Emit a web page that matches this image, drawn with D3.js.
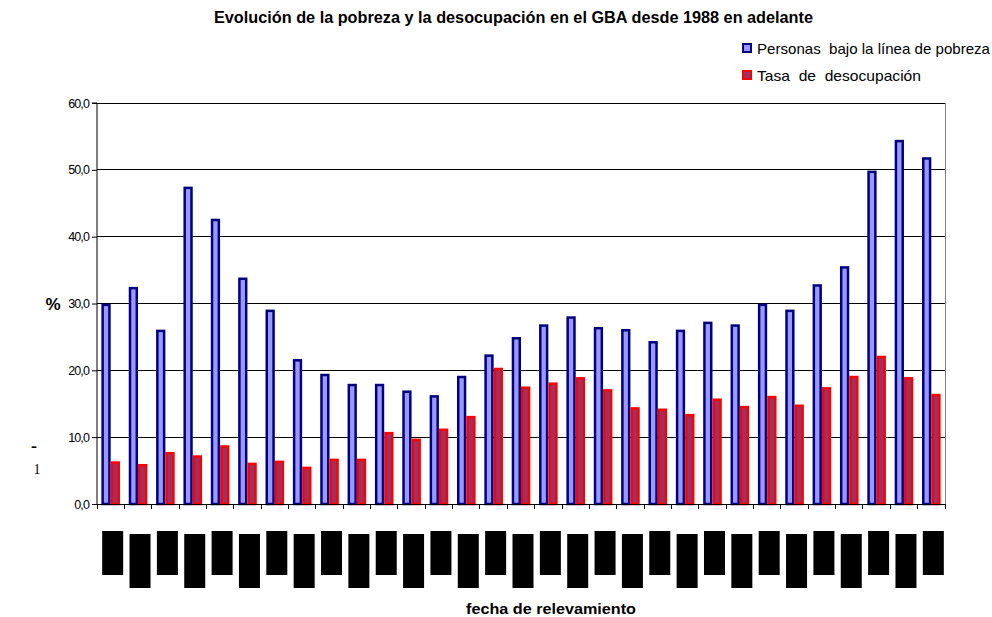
<!DOCTYPE html>
<html>
<head>
<meta charset="utf-8">
<script src="https://cdn.jsdelivr.net/npm/d3@7/dist/d3.min.js"></script>
<style>
  html, body { margin: 0; padding: 0; background: #fff; }
  svg { display: block; font-family: "Liberation Sans", Arial, sans-serif; }
</style>
</head>
<body>
<svg id="chart" width="992" height="617"></svg>
<script>
// Relevamientos (EPH, GBA) de mayo 1988 a mayo 2003
const categories = [
  "may-88","oct-88","may-89","oct-89","may-90","oct-90","may-91","oct-91",
  "may-92","oct-92","may-93","oct-93","may-94","oct-94","may-95","oct-95",
  "may-96","oct-96","may-97","oct-97","may-98","oct-98","may-99","oct-99",
  "may-00","oct-00","may-01","oct-01","may-02","oct-02","may-03"
];
// Personas bajo la línea de pobreza (%)
const pobreza = [
  29.8, 32.3, 25.9, 47.3, 42.5, 33.7, 28.9, 21.5,
  19.3, 17.8, 17.8, 16.8, 16.1, 19.0, 22.2, 24.8,
  26.7, 27.9, 26.3, 26.0, 24.2, 25.9, 27.1, 26.7,
  29.8, 28.9, 32.7, 35.4, 49.7, 54.3, 51.7
];
// Tasa de desocupación (%)
const desocupacion = [
  6.2, 5.8, 7.6, 7.1, 8.6, 6.0, 6.3, 5.4,
  6.6, 6.6, 10.6, 9.6, 11.1, 13.0, 20.2, 17.4,
  18.0, 18.8, 17.0, 14.3, 14.1, 13.3, 15.6, 14.5,
  16.0, 14.7, 17.3, 19.0, 22.0, 18.8, 16.3
];
const seriesNames = ["Personas  bajo la línea de pobreza", "Tasa  de  desocupación"];
const yTicks = [0, 10, 20, 30, 40, 50, 60];

const svg = d3.select("#chart");
const plot = { left: 97, right: 945, top: 103, bottom: 504 };

const x0 = d3.scaleBand().domain(categories).range([plot.left, plot.right]);
const bw = x0.bandwidth();
const x1 = d3.scaleBand().domain([0, 1]).range([bw * 0.16, bw * 0.84]);
const y = d3.scaleLinear().domain([0, 60]).range([plot.bottom, plot.top]);

const styles = [
  { fill: "#9999ff", stroke: "#000080" },
  { fill: "#993366", stroke: "#ff0000" }
];

// Title
svg.append("text")
  .attr("x", 214).attr("y", 23)
  .attr("font-size", 16).attr("font-weight", "bold")
  .attr("textLength", 599).attr("lengthAdjust", "spacingAndGlyphs")
  .text("Evolución de la pobreza y la desocupación en el GBA desde 1988 en adelante");

// Horizontal gridlines
svg.append("g").selectAll("line")
  .data(yTicks.filter(d => d > 0))
  .join("line")
  .attr("x1", plot.left).attr("x2", plot.right)
  .attr("y1", d => y(d)).attr("y2", d => y(d))
  .attr("stroke", "#000").attr("stroke-width", 1)
  .attr("shape-rendering", "crispEdges");

// Right border of plot area
svg.append("line")
  .attr("x1", plot.right).attr("x2", plot.right)
  .attr("y1", plot.top).attr("y2", plot.bottom)
  .attr("stroke", "#808080").attr("shape-rendering", "crispEdges");

// Bars
const rows = categories.map((c, i) => ({ c, vals: [pobreza[i], desocupacion[i]] }));
const sw = 2.5;
const groups = svg.append("g").selectAll("g")
  .data(rows).join("g")
  .attr("transform", d => `translate(${x0(d.c)},0)`);
groups.selectAll("rect")
  .data(d => d.vals.map((v, k) => ({ v, k })))
  .join("rect")
  .attr("x", d => x1(d.k) + sw / 2)
  .attr("width", x1.bandwidth() - sw)
  .attr("y", d => y(d.v))
  .attr("height", d => y(0) - y(d.v))
  .attr("fill", d => styles[d.k].fill)
  .attr("stroke", d => styles[d.k].stroke)
  .attr("stroke-width", sw);

// Y axis
const yAxis = d3.axisLeft(y).tickValues(yTicks).tickSize(5).tickPadding(3)
  .tickFormat(d => d3.format(".1f")(d).replace(".", ","));
const gy = svg.append("g").attr("transform", `translate(${plot.left},0)`).call(yAxis);
gy.select(".domain").attr("stroke", "#000").attr("d", `M-5,${plot.top}H0V${plot.bottom}`);
gy.selectAll(".tick line").attr("stroke", "#000");
gy.selectAll(".tick text")
  .attr("font-size", 12.5).attr("font-family", "Liberation Sans, Arial, sans-serif")
  .attr("letter-spacing", -0.9).attr("fill", "#000");

// X axis baseline and category ticks
svg.append("line")
  .attr("x1", plot.left).attr("x2", plot.right)
  .attr("y1", plot.bottom).attr("y2", plot.bottom)
  .attr("stroke", "#000").attr("shape-rendering", "crispEdges");
svg.append("g").selectAll("line")
  .data(categories.concat(["_end"]))
  .join("line")
  .attr("x1", (d, i) => i < categories.length ? x0(d) : plot.right)
  .attr("x2", (d, i) => i < categories.length ? x0(d) : plot.right)
  .attr("y1", plot.bottom).attr("y2", plot.bottom + 5)
  .attr("stroke", "#000").attr("shape-rendering", "crispEdges");

// Category labels (vertical, staggered, on black label blocks)
const lab = svg.append("g").selectAll("g")
  .data(categories).join("g")
  .attr("transform", (d, i) => `translate(${x0(d) + bw / 2 + 2},${i % 2 === 0 ? 531 : 534})`);
lab.append("rect")
  .attr("x", -10.5).attr("width", 21)
  .attr("y", 0).attr("height", (d, i) => i % 2 === 0 ? 44 : 54)
  .attr("fill", "#000");
lab.append("text")
  .attr("transform", (d, i) => `translate(4,${i % 2 === 0 ? 22 : 27}) rotate(-90)`)
  .attr("text-anchor", "middle")
  .attr("font-size", 11).attr("fill", "#000")
  .text(d => d);

// Axis titles
svg.append("text")
  .attr("x", 53).attr("y", 310)
  .attr("text-anchor", "middle")
  .attr("font-size", 17).attr("font-weight", "bold")
  .text("%");
svg.append("text")
  .attr("x", 466).attr("y", 614)
  .attr("font-size", 15.5).attr("font-weight", "bold")
  .attr("textLength", 170).attr("lengthAdjust", "spacingAndGlyphs")
  .text("fecha de relevamiento");

// Stray marks at the left margin
svg.append("text")
  .attr("x", 34).attr("y", 452)
  .attr("text-anchor", "middle")
  .attr("font-size", 18).attr("font-weight", "bold")
  .attr("font-family", "Liberation Serif, serif")
  .text("-");
svg.append("text")
  .attr("x", 37).attr("y", 474)
  .attr("text-anchor", "middle")
  .attr("font-size", 14)
  .attr("font-family", "Liberation Serif, serif")
  .text("1");

// Legend
const legendW = [233, 164];
const leg = svg.append("g").selectAll("g")
  .data(seriesNames).join("g")
  .attr("transform", (d, i) => `translate(742,${43 + i * 27})`);
leg.append("rect")
  .attr("x", 1).attr("y", 1).attr("width", 8).attr("height", 8)
  .attr("fill", (d, i) => styles[i].fill)
  .attr("stroke", (d, i) => styles[i].stroke)
  .attr("stroke-width", 2);
leg.append("text")
  .attr("x", 15).attr("y", 11)
  .attr("font-size", 15)
  .style("white-space", "pre")
  .attr("textLength", (d, i) => legendW[i]).attr("lengthAdjust", "spacingAndGlyphs")
  .text(d => d);
</script>
</body>
</html>
